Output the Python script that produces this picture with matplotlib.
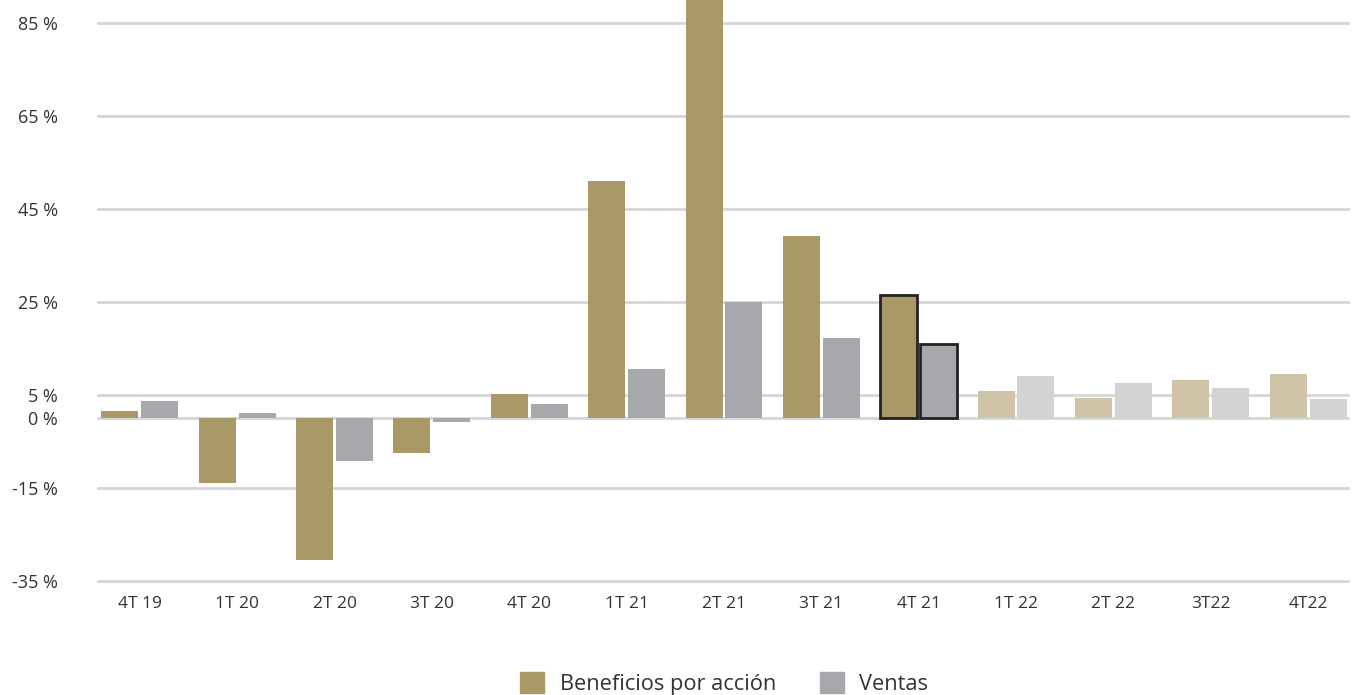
import numpy as np
import matplotlib.pyplot as plt
from matplotlib.patches import Patch

plt.rcParams['font.family'] = ['Open Sans', 'DejaVu Sans']

# Data
quarters = ['4T 19', '1T 20', '2T 20', '3T 20', '4T 20', '1T 21', '2T 21',
            '3T 21', '4T 21', '1T 22', '2T 22', '3T22', '4T22']
eps = [1.5, -14.0, -30.5, -7.5, 5.2, 51.0, 92.0, 39.2, 26.5, 5.8, 4.3, 8.1, 9.6]
ventas = [3.6, 1.2, -9.3, -0.8, 3.0, 10.5, 25.0, 17.3, 15.9, 9.1, 7.5, 6.4, 4.1]
yticks = [85, 65, 45, 25, 5, 0, -15, -35]

n_actual = 9  # quarters up to 4T 21 are actual, the rest estimates
highlight = 8  # 4T 21

eps_col, eps_light = '#A89966', '#D0C4A8'
ven_col, ven_light = '#A7A8AC', '#D2D3D5'
text_col = '#333333'

fig = plt.figure(figsize=(13.56, 6.95), dpi=100)
ax = fig.add_axes([98 / 1356, 114.3 / 695, 1250 / 1356, 1 - 114.3 / 695])

x = np.arange(len(quarters))
w = 0.38
off = 0.205

eps_colors = [eps_col if i < n_actual else eps_light for i in x]
ven_colors = [ven_col if i < n_actual else ven_light for i in x]

for y in yticks:
    ax.axhline(y, color='#D6D6D6', lw=2, zorder=0, clip_on=False)

b1 = ax.bar(x - off, eps, w, color=eps_colors, zorder=2)
b2 = ax.bar(x + off, ventas, w, color=ven_colors, zorder=2)
for b in (b1[highlight], b2[highlight]):
    b.set_edgecolor('#222222')
    b.set_linewidth(2)

ax.set_xlim(-0.43, 12.41)
ax.set_ylim(-35, 90)
ax.set_yticks(yticks)
ax.set_yticklabels([f'{v} %' for v in yticks])
ax.set_xticks(x)
ax.set_xticklabels(quarters)
ax.tick_params(length=0, labelsize=12.5, colors=text_col)
ax.tick_params(axis='y', labelsize=13, pad=29)
ax.tick_params(axis='x', pad=11)
for s in ax.spines.values():
    s.set_visible(False)

handles = [Patch(color=eps_col, label='Beneficios por acción'),
           Patch(color=ven_col, label='Ventas')]
fig.legend(handles=handles, loc='center', bbox_to_anchor=(0.534, 0.017),
           ncol=2, frameon=False, fontsize=15.7, handlelength=1.1,
           handleheight=1.1, handletextpad=0.7, columnspacing=2.0,
           labelcolor=text_col)

fig.savefig('out.png', dpi=100)
